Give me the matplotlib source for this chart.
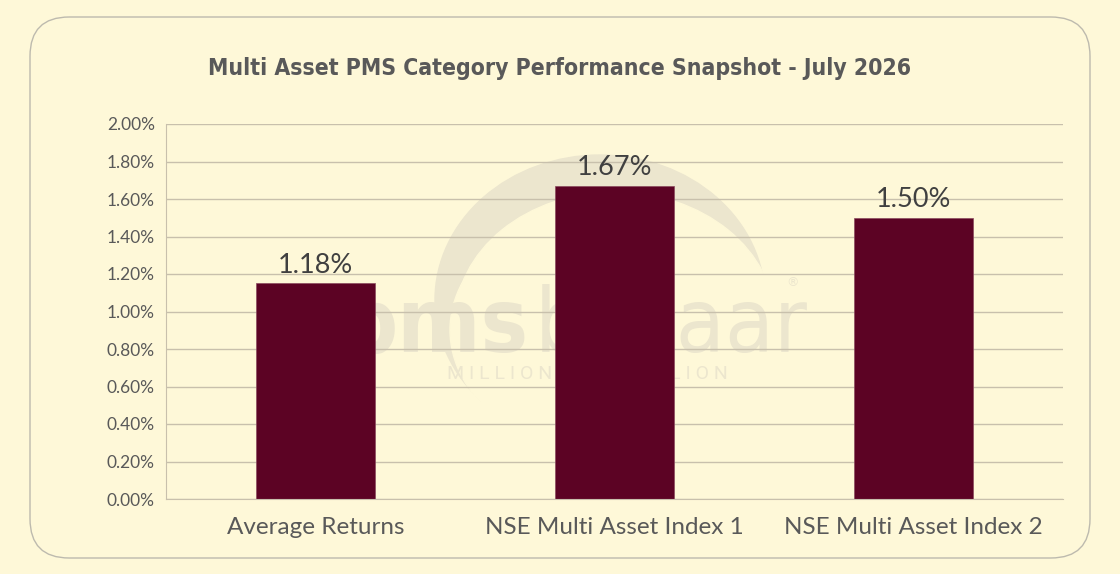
import matplotlib
matplotlib.use("Agg")
import matplotlib.pyplot as plt
from matplotlib.patches import FancyBboxPatch, Ellipse

W, H, DPI = 1120, 574, 100
PAPER, BAR, GRID, INK, LABEL = "#FEF8D8", "#5C0324", "#C8C0AC", "#595959", "#404040"
WM = "#ECE6CE"

categories = ["Average Returns", "NSE Multi Asset Index 1", "NSE Multi Asset Index 2"]
returns = [1.15, 1.67, 1.50]
bar_labels = ["1.18%", "1.67%", "1.50%"]
yticks = [0.0, 0.2, 0.4, 0.6, 0.8, 1.0, 1.2, 1.4, 1.6, 1.8, 2.0]
title = "Multi Asset PMS Category Performance Snapshot - July 2026"


def px(x, y):
    return x / W, 1 - y / H


fig = plt.figure(figsize=(W / DPI, H / DPI), dpi=DPI, facecolor=PAPER)

# rounded panel
x0, y0 = px(30, 558)
x1, y1 = px(1090, 17)
fig.patches.append(FancyBboxPatch((x0, y0), x1 - x0, y1 - y0,
                                  boxstyle="round,pad=0,rounding_size=0.035",
                                  transform=fig.transFigure, facecolor=PAPER,
                                  edgecolor="#BDBAAE", linewidth=1.0,
                                  mutation_aspect=W / H, zorder=-10))

tx, ty = px(560, 68)
fig.text(tx, ty, title, ha="center", va="center", fontsize=16.5, fontweight="bold",
         color=INK, family="DejaVu Sans", fontstretch="condensed")

# faded watermark behind grid
wm = fig.add_axes([0, 0, 1, 1], zorder=-5)
wm.set_xlim(0, W); wm.set_ylim(H, 0); wm.axis("off")
wm.add_patch(Ellipse((600, 300), 330, 290, color=WM, zorder=0))
wm.add_patch(Ellipse((615, 322), 320, 260, color=PAPER, zorder=1))
wm.add_patch(Ellipse((615, 330), 330, 250, color=PAPER, zorder=1))
wm.text(528, 352, "pms", ha="right", va="baseline", fontsize=64, fontweight="bold",
        color=WM, family="DejaVu Sans", fontstretch="condensed", zorder=2)
wm.text(535, 352, "bazaar", ha="left", va="baseline", fontsize=64,
        color=WM, family="DejaVu Sans", fontstretch="condensed", zorder=2)
wm.text(793, 283, "\u00ae", ha="center", va="center", fontsize=9, color=WM, zorder=2)
wm.text(587, 374, "M I L L I O N S   T O   B I L L I O N", ha="center", va="center",
        fontsize=14, color=WM, family="Roboto", zorder=2)

# plot area
l, b = px(166, 499)
r, t = px(1063, 124)
ax = fig.add_axes([l, b, r - l, t - b])
ax.set_facecolor("none")
ax.set_xlim(-0.5, 2.5)
ax.set_ylim(0, 2.0)

ax.set_yticks(yticks)
ax.set_yticklabels([f"{v:.2f}%" for v in yticks])
ax.grid(axis="y", color=GRID, linewidth=1.0, zorder=1)
ax.set_axisbelow(True)

bars = ax.bar(range(len(categories)), returns, width=0.4, color=BAR,
              edgecolor="#8A4A5E", linewidth=0.5, zorder=2)
for rect, lab in zip(bars, bar_labels):
    ax.annotate(lab, (rect.get_x() + rect.get_width() / 2, rect.get_height()),
                xytext=(0, 4), textcoords="offset points", ha="center", va="bottom",
                fontsize=19.5, color=LABEL, family="Lato")

ax.set_xticks(range(len(categories)))
ax.set_xticklabels(categories, fontsize=17.5, color=INK, family="Lato")
for s in ["top", "right"]:
    ax.spines[s].set_visible(False)
for s in ["left", "bottom"]:
    ax.spines[s].set_color(GRID)
ax.tick_params(axis="x", length=0, pad=13)
ax.tick_params(axis="y", length=0, pad=8, labelsize=12.5, labelcolor=INK)
for lab in ax.get_yticklabels():
    lab.set_family("Lato")

fig.savefig("out.png", dpi=DPI, facecolor=PAPER)
